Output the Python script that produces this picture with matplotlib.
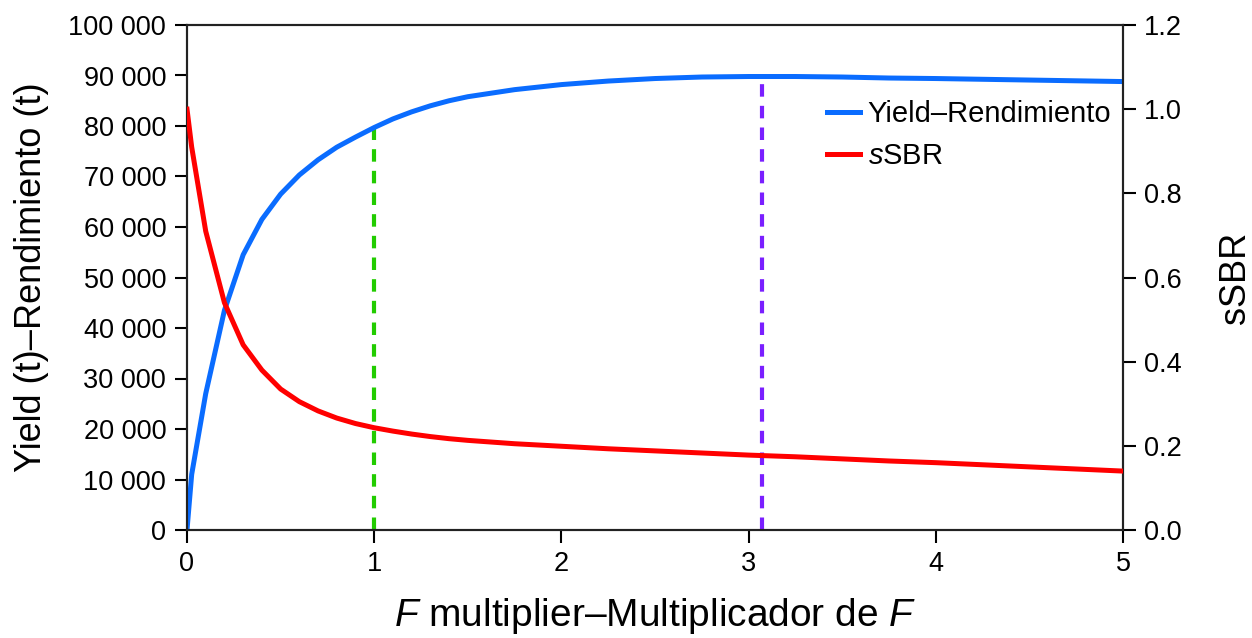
import matplotlib
matplotlib.use("Agg")
import matplotlib.pyplot as plt
from matplotlib.ticker import FuncFormatter

plt.rcParams["font.family"] = ["Liberation Sans", "DejaVu Sans"]
plt.rcParams["mathtext.fontset"] = "custom"
plt.rcParams["mathtext.it"] = "Liberation Sans:italic"
plt.rcParams["mathtext.rm"] = "Liberation Sans"

# F multiplier grid and the two curves
f_mult = [0, 0.025, 0.1, 0.2, 0.3, 0.4, 0.5, 0.6, 0.7, 0.8, 0.9, 1.0, 1.1, 1.2,
          1.3, 1.4, 1.5, 1.75, 2.0, 2.25, 2.5, 2.75, 3.0, 3.25, 3.5, 3.75, 4.0,
          4.5, 5.0]
yield_t = [0, 11000, 27000, 43500, 54500, 61500, 66500, 70300, 73300, 75800,
           77800, 79700, 81400, 82800, 84000, 85000, 85800, 87200, 88200, 88900,
           89400, 89700, 89800, 89800, 89700, 89500, 89400, 89100, 88800]
ssbr = [1.0, 0.91, 0.71, 0.54, 0.44, 0.38, 0.335, 0.305, 0.283, 0.266, 0.253,
        0.243, 0.235, 0.228, 0.222, 0.217, 0.213, 0.205, 0.199, 0.193, 0.188,
        0.183, 0.178, 0.174, 0.169, 0.164, 0.16, 0.15, 0.14]

# reference points marked with vertical dashed lines
f_current = 1.0
yield_current = 79700
f_msy = 3.07
yield_msy = 89700

fig = plt.figure(figsize=(12.52, 6.38), dpi=100)
ax = fig.add_axes([187 / 1252, 1 - 530 / 638, (1123 - 187) / 1252, (530 - 25) / 638])
ax2 = ax.twinx()

ax.plot([f_current, f_current], [0, yield_current], color="#22cc00", lw=3,
        ls=(0, (3, 2.2)), zorder=2)
ax.plot([f_msy, f_msy], [0, yield_msy], color="#7a1fff", lw=3,
        ls=(0, (3, 2.2)), zorder=2)
l1, = ax.plot(f_mult, yield_t, color="#0a6cff", lw=3.6, zorder=3,
              label="Yield\u2013Rendimiento")
l2, = ax2.plot(f_mult, ssbr, color="#ff0000", lw=3.6, zorder=3,
               label="$\\mathit{s}$SBR")

ax.set_xlim(0, 5)
ax.set_ylim(0, 100000)
ax2.set_ylim(0, 1.2)
ax.set_xticks([0, 1, 2, 3, 4, 5])
ax.set_yticks(range(0, 100001, 10000))
ax2.set_yticks([0.0, 0.2, 0.4, 0.6, 0.8, 1.0, 1.2])
ax.yaxis.set_major_formatter(FuncFormatter(lambda v, p: f"{int(v):,}".replace(",", " ")))
ax2.yaxis.set_major_formatter(FuncFormatter(lambda v, p: f"{v:.1f}"))

for a in (ax, ax2):
    a.tick_params(direction="out", length=9, width=1.5, labelsize=19.5, pad=6)
    for s in a.spines.values():
        s.set_linewidth(1.5)
        s.set_color("#222222")

ax.set_xlabel("$\\mathit{F}$ multiplier\u2013Multiplicador de $\\mathit{F}$",
              fontsize=28, labelpad=14)
ax.set_ylabel("Yield (t)\u2013Rendimiento (t)", fontsize=26, labelpad=14)
ax2.set_ylabel("sSBR", fontsize=26, labelpad=26)

ax2.legend(handles=[l1, l2], loc="upper right", bbox_to_anchor=(1.0, 0.875),
           frameon=False, fontsize=21, handlelength=1.15, handletextpad=0.25,
           labelspacing=0.5, borderaxespad=0.0)

fig.savefig("out.png", dpi=100)
